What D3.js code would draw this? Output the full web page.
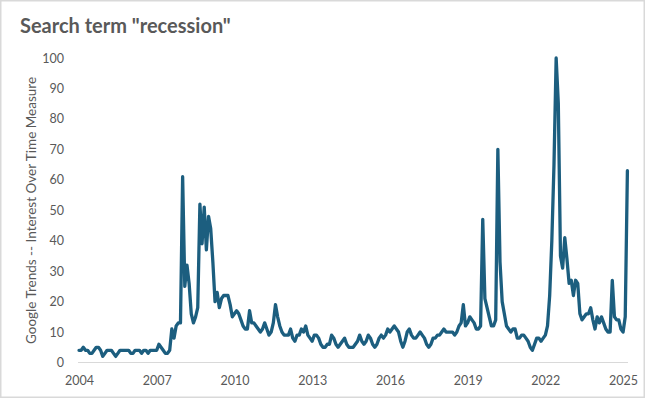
<!DOCTYPE html>
<html><head><meta charset="utf-8">
<script src="https://cdn.jsdelivr.net/npm/d3@7"></script>
<style>body{margin:0;background:#fff}svg{display:block}</style>
</head><body>
<svg id="chart" width="646" height="399"></svg>
<script>
// ---- data ----
const chartTitle = 'Search term "recession"';
const yAxisTitle = 'Google Trends -- Interest Over Time Measure';
const startYear = 2004; // monthly series starting January 2004
const interest = [
  4, 4, 5, 4, 4, 3, 3, 4, 5, 5, 4, 2,          // 2004
  3, 4, 4, 4, 3, 2, 3, 4, 4, 4, 4, 4,          // 2005
  3, 3, 4, 4, 4, 3, 4, 4, 3, 4, 4, 4,          // 2006
  4, 6, 5, 4, 3, 3, 4, 11, 8, 12, 13, 13,      // 2007
  61, 25, 32, 26, 16, 13, 15, 18, 52, 39, 51, 37, // 2008
  48, 44, 33, 20, 23, 18, 21, 22, 22, 22, 19, 15, // 2009
  16, 17, 16, 14, 12, 11, 11, 17, 13, 13, 12, 11, // 2010
  10, 11, 13, 11, 9, 10, 13, 19, 15, 12, 10, 9,   // 2011
  9, 9, 11, 8, 7, 9, 9, 11, 10, 12, 9, 8,         // 2012
  7, 9, 9, 8, 6, 5, 5, 6, 6, 9, 8, 6,             // 2013
  5, 6, 7, 8, 6, 5, 5, 5, 6, 7, 9, 7,             // 2014
  6, 7, 9, 8, 6, 5, 6, 8, 9, 8, 9, 11,            // 2015
  10, 11, 12, 11, 10, 7, 5, 7, 10, 11, 9, 8,      // 2016
  8, 9, 10, 9, 8, 6, 5, 6, 8, 8, 9, 9,            // 2017
  10, 11, 10, 10, 10, 10, 9, 10, 12, 13, 19, 12,  // 2018
  13, 15, 14, 13, 11, 11, 12, 47, 21, 18, 15, 12, // 2019
  12, 14, 70, 33, 20, 16, 12, 11, 10, 11, 11, 8,  // 2020
  8, 9, 9, 8, 7, 5, 4, 6, 8, 8, 7, 8,             // 2021
  9, 12, 22, 40, 65, 100, 85, 35, 31, 41, 34, 26, // 2022
  27, 22, 27, 26, 16, 14, 15, 16, 16, 18, 14, 11, // 2023
  15, 13, 15, 13, 11, 10, 10, 27, 15, 14, 14, 11, // 2024
  10, 15, 63                                      // 2025
];
const yTicks = [0, 10, 20, 30, 40, 50, 60, 70, 80, 90, 100];
const xTickYears = [2004, 2007, 2010, 2013, 2016, 2019, 2022, 2025];

// ---- drawing ----
const svg = d3.select("#chart");
const W = 646, H = 399;
const textColor = "#595959";
const font = "Lato, 'Open Sans', sans-serif";

svg.append("rect").attr("x", 0.75).attr("y", 0.75).attr("width", W - 2.5).attr("height", H - 2.5)
  .attr("fill", "#fff").attr("stroke", "#d9d9d9").attr("stroke-width", 1.5);

const x = d3.scaleLinear().domain([0, interest.length - 1]).range([79, 627.4]);
const y = d3.scaleLinear().domain([0, 100]).range([362.5, 58]);

// title
svg.append("text").attr("x", 20).attr("y", 32.5)
  .attr("font-family", font).attr("font-weight", "bold").attr("font-size", 20)
  .attr("fill", textColor).text(chartTitle);

// y axis
const yAxis = d3.axisLeft(y).tickValues(yTicks).tickSize(0).tickPadding(0);
const gy = svg.append("g").attr("transform", "translate(64,0)").call(yAxis);
gy.select(".domain").remove();
gy.selectAll("text").attr("font-family", font).attr("font-size", 12.5).attr("fill", textColor);

// x axis
const xAxis = d3.axisBottom(x)
  .tickValues(xTickYears.map(yr => (yr - startYear) * 12))
  .tickFormat(v => String(startYear + v / 12))
  .tickSize(0).tickPadding(0);
const gx = svg.append("g").attr("transform", "translate(0,376)").call(xAxis);
gx.select(".domain").remove();
gx.selectAll("text").attr("font-family", font).attr("font-size", 12.5).attr("fill", textColor);

// baseline
svg.append("line").attr("x1", 78).attr("x2", 628).attr("y1", y(0)).attr("y2", y(0))
  .attr("stroke", "#d9d9d9").attr("stroke-width", 1.2);

// y axis title
svg.append("text")
  .attr("transform", "translate(36,210.5) rotate(-90)")
  .attr("text-anchor", "middle")
  .attr("font-family", font).attr("font-size", 13.5).attr("fill", textColor)
  .text(yAxisTitle);

// line
const line = d3.line().x((d, i) => x(i)).y(d => y(d));
svg.append("path").datum(interest)
  .attr("d", line).attr("fill", "none")
  .attr("stroke", "#1c5e7f").attr("stroke-width", 3.3)
  .attr("stroke-linejoin", "round").attr("stroke-linecap", "round");
</script>
</body></html>
